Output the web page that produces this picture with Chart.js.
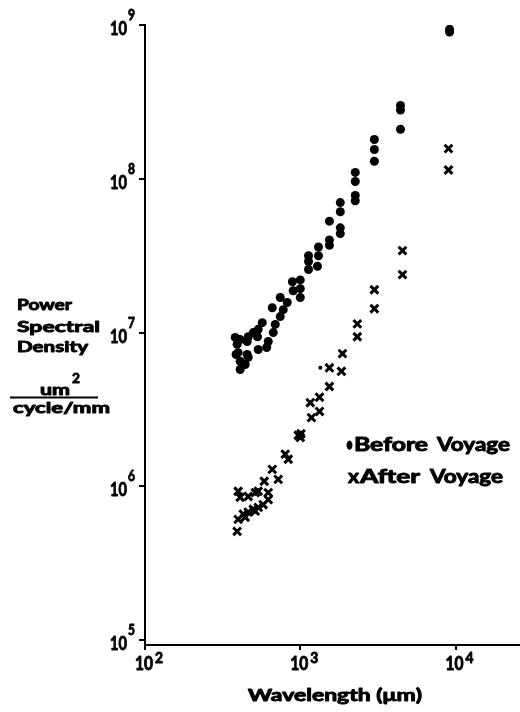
<!DOCTYPE html>
<html>
<head>
<meta charset="utf-8">
<script src="https://cdn.jsdelivr.net/npm/chart.js@4.4.1/dist/chart.umd.min.js"></script>
<style>
html,body{margin:0;padding:0;background:#fff;}
canvas{display:block;}
</style>
</head>
<body>
<canvas id="c" width="520" height="712"></canvas>
<script>
// Wavelength (µm) and PSD values
const beforeX = [9150, 9150, 4420, 4420, 4420, 3000, 3000, 3000, 2260, 2260, 2260, 2260, 1810, 1810, 1810, 1810, 1540, 1540, 1540, 1310, 1310, 1130, 1130, 1290, 1130, 1000, 890, 1000, 900, 1000, 824, 743, 777, 660, 743, 690, 670, 622, 608, 569, 536, 530, 536, 498, 462, 455, 455, 410, 392, 398, 410, 410, 442, 462, 381, 386, 1346];
const beforeY = [9.4e8, 9.0e8, 3.0e8, 2.8e8, 2.1e8, 1.8e8, 1.55e8, 1.3e8, 1.1e8, 9.6e7, 7.8e7, 7.2e7, 7.0e7, 6.1e7, 4.8e7, 4.4e7, 5.3e7, 4.0e7, 3.7e7, 3.6e7, 3.16e7, 3.16e7, 2.9e7, 2.7e7, 2.57e7, 2.2e7, 2.14e7, 1.93e7, 1.87e7, 1.69e7, 1.57e7, 1.69e7, 1.41e7, 1.45e7, 1.27e7, 1.13e7, 1.0e7, 8.75e6, 8.0e6, 1.16e7, 1.05e7, 9.4e6, 7.76e6, 1.0e7, 9.4e6, 8.75e6, 7.2e6, 9.0e6, 8.4e6, 7.4e6, 6.5e6, 5.75e6, 6.2e6, 6.9e6, 9.3e6, 7.2e6, 5.9e6];
const afterX = [9000, 9000, 4550, 4550, 3000, 3000, 2330, 2330, 1870, 1840, 1540, 1540, 1330, 1160, 1330, 1180, 970, 1000, 1010, 800, 837, 660, 721, 586, 622, 536, 398, 410, 462, 513, 398, 429, 462, 498, 536, 577, 442, 513, 622, 392];
const afterY = [1.57e8, 1.14e8, 3.41e7, 2.38e7, 1.9e7, 1.43e7, 1.14e7, 9.4e6, 7.3e6, 5.6e6, 5.9e6, 4.46e6, 3.8e6, 3.5e6, 3.07e6, 2.8e6, 2.15e6, 2.08e6, 2.2e6, 1.62e6, 1.5e6, 1.29e6, 1.11e6, 1.08e6, 9.1e5, 9.3e5, 9.3e5, 8.5e5, 8.6e5, 9.1e5, 6.1e5, 6.6e5, 6.8e5, 7.1e5, 7.3e5, 7.6e5, 6.3e5, 6.9e5, 8.2e5, 5.1e5];
const xTicks = [100, 1000, 10000];
const yTicks = [1e5, 1e6, 1e7, 1e8, 1e9];
const seriesNames = ['Before Voyage', 'After Voyage'];
const xTitle = 'Wavelength (\u03bcm)';
const yTitleLines = ['Power', 'Spectral', 'Density'];

const FONT = 'Lato, "DejaVu Sans", sans-serif';

function drawFit(ctx, text, x, baseline, width, size, stroke) {
  ctx.save();
  ctx.font = 'bold ' + size + 'px ' + FONT;
  ctx.textBaseline = 'alphabetic';
  ctx.textAlign = 'left';
  const w = ctx.measureText(text).width;
  const s = width / w;
  ctx.translate(x, baseline);
  ctx.scale(s, 1);
  ctx.fillStyle = '#000';
  ctx.strokeStyle = '#000';
  ctx.lineWidth = stroke === undefined ? 0.9 : stroke;
  ctx.lineJoin = 'round';
  ctx.fillText(text, 0, 0);
  if (ctx.lineWidth > 0) ctx.strokeText(text, 0, 0);
  ctx.restore();
}

const textPlugin = {
  id: 'textPlugin',
  afterDraw(chart) {
    const ctx = chart.ctx;
    const xs = chart.scales.x, ys = chart.scales.y;
    // y tick labels
    yTicks.forEach(v => {
      const py = ys.getPixelForValue(v);
      const e = String(Math.round(Math.log10(v)));
      drawFit(ctx, '10', 110, py + 10, 17, 19);
      drawFit(ctx, e, 128, py - 5, 7, 16);
    });
    // x tick labels
    xTicks.forEach(v => {
      const px = xs.getPixelForValue(v);
      const e = String(Math.round(Math.log10(v)));
      drawFit(ctx, '10', px - 10, 670, 18, 18);
      drawFit(ctx, e, px + 10, 663, 8, 15);
    });
    // x title
    drawFit(ctx, xTitle, 248, 701, 174, 17);
    // y title
    drawFit(ctx, yTitleLines[0], 17, 310, 55, 15);
    drawFit(ctx, yTitleLines[1], 17, 332, 83, 15);
    drawFit(ctx, yTitleLines[2], 17, 352, 71, 15);
    drawFit(ctx, 'um', 40, 395, 30, 15);
    drawFit(ctx, '2', 72, 383, 8, 14);
    ctx.save();
    ctx.strokeStyle = '#000';
    ctx.lineWidth = 2;
    ctx.beginPath();
    ctx.moveTo(10, 397.5);
    ctx.lineTo(98, 397.5);
    ctx.stroke();
    ctx.restore();
    drawFit(ctx, 'cycle/mm', 13, 413, 97, 15);
    // legend
    drawFit(ctx, '\u2022', 346, 451, 7, 18);
    drawFit(ctx, 'Before', 354, 451, 74, 18);
    drawFit(ctx, 'Voyage', 437, 451, 73, 18);
    drawFit(ctx, 'x', 348, 483, 11, 18);
    drawFit(ctx, 'After', 360, 483, 60, 18);
    drawFit(ctx, 'Voyage', 430, 483, 73, 18);
  }
};

const toPts = (xa, ya) => xa.map((x, i) => ({ x: x, y: ya[i] }));
const zeroPad = s => { s.paddingLeft = 0; s.paddingRight = 0; s.paddingTop = 0; s.paddingBottom = 0; };

new Chart(document.getElementById('c'), {
  type: 'scatter',
  data: {
    datasets: [
      {
        label: seriesNames[0],
        data: toPts(beforeX, beforeY),
        pointStyle: 'circle',
        pointRadius: beforeX.map((x, i) => i === beforeX.length - 1 ? 2 : 4.5),
        backgroundColor: '#000',
        borderColor: '#000',
        borderWidth: 0
      },
      {
        label: seriesNames[1],
        data: toPts(afterX, afterY),
        pointStyle: 'crossRot',
        pointRadius: 5.5,
        backgroundColor: '#000',
        borderColor: '#000',
        borderWidth: 3
      }
    ]
  },
  options: {
    responsive: false,
    animation: false,
    devicePixelRatio: 1,
    layout: { autoPadding: false, padding: { top: 25, right: 0, left: 0, bottom: 0 } },
    plugins: { legend: { display: false }, tooltip: { enabled: false } },
    scales: {
      x: {
        type: 'logarithmic',
        min: 100,
        max: 26000,
        afterBuildTicks: s => { s.ticks = xTicks.map(v => ({ value: v })); },
        afterFit: s => { s.height = 67; zeroPad(s); },
        ticks: { display: false },
        grid: { display: true, drawOnChartArea: false, drawTicks: true, tickLength: 5, color: '#000', lineWidth: 2 },
        border: { display: true, color: '#000', width: 2 }
      },
      y: {
        type: 'logarithmic',
        min: 93000,
        max: 1e9,
        afterBuildTicks: s => { s.ticks = yTicks.map(v => ({ value: v })); },
        afterFit: s => { s.width = 145; zeroPad(s); },
        ticks: { display: false },
        grid: { display: true, drawOnChartArea: false, drawTicks: true, tickLength: 6, color: '#000', lineWidth: 2 },
        border: { display: true, color: '#000', width: 2 }
      }
    }
  },
  plugins: [textPlugin]
});
</script>
</body>
</html>
